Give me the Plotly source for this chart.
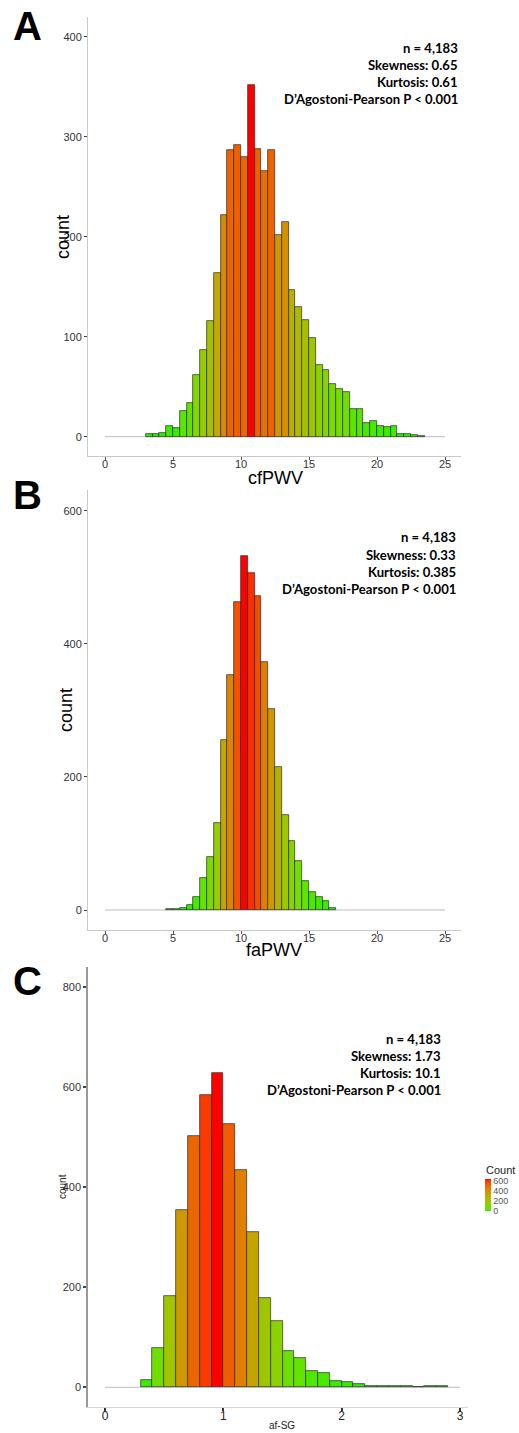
import plotly.graph_objects as go

# ---------------- DATA ----------------
# Panel A: cfPWV histogram (bin width 0.5 starting at 3.0)
cf_bin_start = 3.0
cf_bin_width = 0.5
cf_counts = [3, 3, 4, 11, 9, 26, 34, 62, 87, 116, 164, 222, 287, 292, 280, 352,
             288, 266, 287, 202, 215, 147, 130, 117, 99, 72, 67, 53, 48, 45,
             28, 28, 14, 16, 11, 10, 11, 3, 3, 2, 1]
cf_xticks = [0, 5, 10, 15, 20, 25]
cf_yticks = [0, 100, 200, 300, 400]
cf_stats = ["n = 4,183", "Skewness: 0.65", "Kurtosis: 0.61", "D\u2019Agostoni-Pearson P < 0.001"]

# Panel B: faPWV histogram (bin width 0.5 starting at 4.5)
fa_bin_start = 4.5
fa_bin_width = 0.5
fa_counts = [2, 1, 3, 7, 20, 48, 80, 131, 256, 353, 463, 532, 507, 472, 373,
             302, 215, 143, 103, 74, 44, 27, 19, 13, 3]
fa_xticks = [0, 5, 10, 15, 20, 25]
fa_yticks = [0, 200, 400, 600]
fa_stats = ["n = 4,183", "Skewness: 0.33", "Kurtosis: 0.385", "D\u2019Agostoni-Pearson P < 0.001"]

# Panel C: af-SG histogram (bin width 0.1 starting at 0.3)
sg_bin_start = 0.3
sg_bin_width = 0.1
sg_counts = [15, 78, 182, 355, 502, 584, 629, 526, 434, 311, 179, 133, 72, 58,
             32, 28, 13, 11, 7, 3, 3, 3, 2, 1, 3, 2]
sg_xticks = [0, 1, 2, 3]
sg_yticks = [0, 200, 400, 600, 800]
sg_stats = ["n = 4,183", "Skewness: 1.73", "Kurtosis: 10.1", "D\u2019Agostoni-Pearson P < 0.001"]
legend_ticks = [0, 200, 400, 600]

# ---------------- STYLE HELPERS ----------------
W, H = 519, 1433


def px(x):
    return x / W


def py(y):
    return 1 - y / H


def _srgb_to_lab(hexc):
    r, g, b = [int(hexc[i:i + 2], 16) / 255 for i in (1, 3, 5)]

    def lin(c):
        return c / 12.92 if c <= 0.04045 else ((c + 0.055) / 1.055) ** 2.4
    r, g, b = lin(r), lin(g), lin(b)
    X = 0.4124 * r + 0.3576 * g + 0.1805 * b
    Y = 0.2126 * r + 0.7152 * g + 0.0722 * b
    Z = 0.0193 * r + 0.1192 * g + 0.9505 * b
    X, Z = X / 0.95047, Z / 1.08883

    def f(t):
        return t ** (1 / 3) if t > 0.008856 else 7.787 * t + 16 / 116
    fx, fy, fz = f(X), f(Y), f(Z)
    return (116 * fy - 16, 500 * (fx - fy), 200 * (fy - fz))


def _lab_to_hex(L, a, b):
    fy = (L + 16) / 116
    fx = fy + a / 500
    fz = fy - b / 200

    def finv(t):
        return t ** 3 if t ** 3 > 0.008856 else (t - 16 / 116) / 7.787
    X, Y, Z = 0.95047 * finv(fx), finv(fy), 1.08883 * finv(fz)
    r = 3.2406 * X - 1.5372 * Y - 0.4986 * Z
    g = -0.9689 * X + 1.8758 * Y + 0.0415 * Z
    bb = 0.0557 * X - 0.2040 * Y + 1.0570 * Z

    def gam(c):
        c = max(0.0, min(1.0, c))
        return 12.92 * c if c <= 0.0031308 else 1.055 * c ** (1 / 2.4) - 0.055
    return "#%02x%02x%02x" % tuple(int(round(gam(c) * 255)) for c in (r, g, bb))


def lab_scale(c0, c1, n=21):
    l0, l1 = _srgb_to_lab(c0), _srgb_to_lab(c1)
    out = []
    for i in range(n):
        t = i / (n - 1)
        lab = [l0[k] + (l1[k] - l0[k]) * t for k in range(3)]
        out.append([t, _lab_to_hex(*lab)])
    return out


CS = lab_scale("#22f000", "#ff0000")
FONT = "Arial, Liberation Sans, sans-serif"
STATFONT = "Lato, Open Sans, sans-serif"

fig = go.Figure()


def add_hist(start, width, counts, xa, ya, showscale=False):
    centers = [start + width * i + width / 2 for i in range(len(counts))]
    marker = dict(color=counts, colorscale=CS, cmin=0, cmax=max(counts),
                  line=dict(color="#2a2a2a", width=0.7))
    if showscale:
        marker.update(showscale=True, colorbar=dict(
            thickness=6, thicknessmode="pixels",
            len=32, lenmode="pixels",
            x=px(485), xanchor="left", xpad=0,
            y=py(1195), yanchor="middle", ypad=0,
            outlinewidth=0, ticks="", tickvals=legend_ticks,
            tickfont=dict(family=FONT, size=9, color="#555"),
        ))
    fig.add_trace(go.Bar(x=centers, y=counts, width=width, marker=marker,
                         xaxis=xa, yaxis=ya, showlegend=False, hoverinfo="skip"))


add_hist(cf_bin_start, cf_bin_width, cf_counts, "x", "y")
add_hist(fa_bin_start, fa_bin_width, fa_counts, "x2", "y2")
add_hist(sg_bin_start, sg_bin_width, sg_counts, "x3", "y3", showscale=True)

tickfont = dict(family=FONT, size=11, color="#333333")


def xax(dom, rng, vals, anchor, lc="#c8c8c8", tf=None, tc="#555", tw=1):
    return dict(domain=dom, range=rng, tickvals=vals, anchor=anchor,
                showline=True, linecolor=lc, linewidth=1, ticks="outside",
                ticklen=3, tickcolor=tc, tickwidth=tw, tickfont=tf or tickfont,
                ticklabelstandoff=-5,
                showgrid=False, zeroline=False, fixedrange=True)


def yax(dom, rng, vals, anchor, lc="#c8c8c8", lw=1, tw=1):
    return dict(domain=dom, range=rng, tickvals=vals, anchor=anchor,
                showline=True, linecolor=lc, linewidth=lw, ticks="outside",
                ticklen=3, tickcolor="#444", tickwidth=tw, tickfont=tickfont,
                showgrid=False, zeroline=False, fixedrange=True)


fig.update_layout(
    template="none",
    width=W, height=H, margin=dict(l=0, r=0, t=0, b=0, pad=0),
    paper_bgcolor="white", plot_bgcolor="white",
    barmode="overlay", bargap=0,
    xaxis=xax([px(88), px(461)], [(88 - 105) / 13.6, (461 - 105) / 13.6], cf_xticks, "y"),
    yaxis=yax([py(456), py(17)], [-19.3, 419.7], cf_yticks, "x"),
    xaxis2=xax([px(88), px(461)], [(88 - 105) / 13.6, (461 - 105) / 13.6], fa_xticks, "y2"),
    yaxis2=yax([py(930), py(490)], [-30.05, 631.1], fa_yticks, "x2"),
    xaxis3=xax([px(88), px(468)], [(88 - 105) / 118.33, (468 - 105) / 118.33], sg_xticks, "y3",
               lc="#d8d8d8", tf=dict(family=FONT, size=12, color="#222"), tc="#333", tw=2),
    yaxis3=yax([py(1407), py(967)], [-39.4, 840.6], sg_yticks, "x3", lc="#999", lw=1.5, tw=2),
)

# baseline lines
for xr, yr, x1 in (("x", "y", 25), ("x2", "y2", 25), ("x3", "y3", 3)):
    fig.add_shape(type="line", xref=xr, yref=yr, x0=0, x1=x1, y0=0, y1=0,
                  line=dict(color="#bdbdbd", width=1), layer="below")

ann = []
# panel letters
for lab, yc in (("A", 26), ("B", 495), ("C", 981)):
    ann.append(dict(text="<b>%s</b>" % lab, x=px(27), y=py(yc), xref="paper", yref="paper",
                    showarrow=False, xanchor="center", yanchor="middle",
                    font=dict(family=FONT, size=40, color="black")))

# stats texts
for lines, right, ys in ((cf_stats, 460, (47.7, 65, 82.3, 99.3)),
                         (fa_stats, 458.3, (537.3, 555, 571.7, 589)),
                         (sg_stats, 443.3, (1038.7, 1056, 1073.3, 1090))):
    for t, yy in zip(lines, ys):
        ann.append(dict(text="<b>%s</b>" % t, x=px(right), y=py(yy), xref="paper", yref="paper",
                        showarrow=False, xanchor="right", yanchor="middle",
                        font=dict(family=STATFONT, size=13.1, color="black")))

# axis titles
ann.append(dict(text="count", x=px(63), y=py(237), xref="paper", yref="paper", showarrow=False,
                textangle=-90, xanchor="center", yanchor="middle", font=dict(family=FONT, size=18, color="black")))
ann.append(dict(text="count", x=px(66), y=py(710), xref="paper", yref="paper", showarrow=False,
                textangle=-90, xanchor="center", yanchor="middle", font=dict(family=FONT, size=18, color="black")))
ann.append(dict(text="count", x=px(62), y=py(1187), xref="paper", yref="paper", showarrow=False,
                textangle=-90, xanchor="center", yanchor="middle", font=dict(family=FONT, size=10, color="#222")))
ann.append(dict(text="cfPWV", x=px(275), y=py(478), xref="paper", yref="paper", showarrow=False,
                xanchor="center", yanchor="middle", font=dict(family=FONT, size=18, color="black")))
ann.append(dict(text="faPWV", x=px(274), y=py(950), xref="paper", yref="paper", showarrow=False,
                xanchor="center", yanchor="middle", font=dict(family=FONT, size=18, color="black")))
ann.append(dict(text="af-SG", x=px(282), y=py(1425), xref="paper", yref="paper", showarrow=False,
                xanchor="center", yanchor="middle", font=dict(family=FONT, size=10, color="#222")))
# legend title
ann.append(dict(text="Count", x=px(484), y=py(1170), xref="paper", yref="paper", showarrow=False,
                xanchor="left", yanchor="middle", font=dict(family=FONT, size=11, color="#222")))

fig.update_layout(annotations=ann)
fig.write_html("out.html", config={"displayModeBar": False},
               post_script="document.body.style.margin='0px';document.body.style.padding='0px';")
